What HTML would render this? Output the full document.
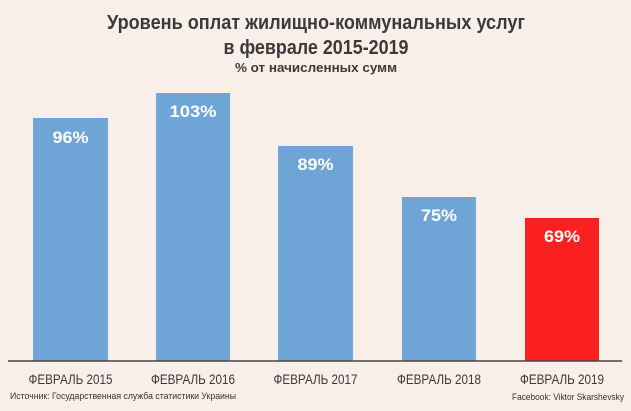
<!DOCTYPE html>
<html><head><meta charset="utf-8"><style>html,body{margin:0;padding:0;background:#f9efe9;}svg{display:block}</style></head>
<body>
<svg width="631" height="411" viewBox="0 0 631 411" xmlns="http://www.w3.org/2000/svg" font-family="Liberation Sans, sans-serif">
<rect width="631" height="411" fill="#f9efe9"/>
<g fill="#3a3a3a" font-weight="bold" text-anchor="middle">
<text x="316" y="29" font-size="20" textLength="418" lengthAdjust="spacingAndGlyphs">Уровень оплат жилищно-коммунальных услуг</text>
<text x="316" y="54" font-size="20" textLength="185" lengthAdjust="spacingAndGlyphs">в феврале 2015-2019</text>
<text x="316" y="72" font-size="13" textLength="162" lengthAdjust="spacingAndGlyphs">% от начисленных сумм</text>
</g>
<g fill="#6fa5d6">
<rect x="33" y="118" width="75" height="243"/>
<rect x="156" y="93" width="74" height="268"/>
<rect x="278" y="146" width="75" height="215"/>
<rect x="402" y="197" width="74" height="164"/>
</g>
<rect x="525" y="218" width="74" height="143" fill="#fb2121"/>
<line x1="8" y1="361" x2="622" y2="361" stroke="#444" stroke-width="1.5"/>
<g fill="#fff" font-weight="bold" font-size="17" text-anchor="middle">
<text x="70.5" y="143" textLength="36" lengthAdjust="spacingAndGlyphs">96%</text>
<text x="193" y="117" textLength="47" lengthAdjust="spacingAndGlyphs">103%</text>
<text x="315.5" y="170" textLength="36" lengthAdjust="spacingAndGlyphs">89%</text>
<text x="439" y="221" textLength="36" lengthAdjust="spacingAndGlyphs">75%</text>
<text x="562" y="242" textLength="36" lengthAdjust="spacingAndGlyphs">69%</text>
</g>
<g fill="#3a3a3a" font-size="14" text-anchor="middle">
<text x="70.5" y="384" textLength="84" lengthAdjust="spacingAndGlyphs">ФЕВРАЛЬ 2015</text>
<text x="193" y="384" textLength="84" lengthAdjust="spacingAndGlyphs">ФЕВРАЛЬ 2016</text>
<text x="315.5" y="384" textLength="84" lengthAdjust="spacingAndGlyphs">ФЕВРАЛЬ 2017</text>
<text x="439" y="384" textLength="84" lengthAdjust="spacingAndGlyphs">ФЕВРАЛЬ 2018</text>
<text x="562" y="384" textLength="84" lengthAdjust="spacingAndGlyphs">ФЕВРАЛЬ 2019</text>
</g>
<text x="10" y="399" font-size="9" fill="#333" textLength="226" lengthAdjust="spacingAndGlyphs">Источник: Государственная служба статистики Украины</text>
<text x="624" y="400" font-size="9" fill="#333" text-anchor="end" textLength="112" lengthAdjust="spacingAndGlyphs">Facebook: Viktor Skarshevsky</text>
</svg>
</body></html>
